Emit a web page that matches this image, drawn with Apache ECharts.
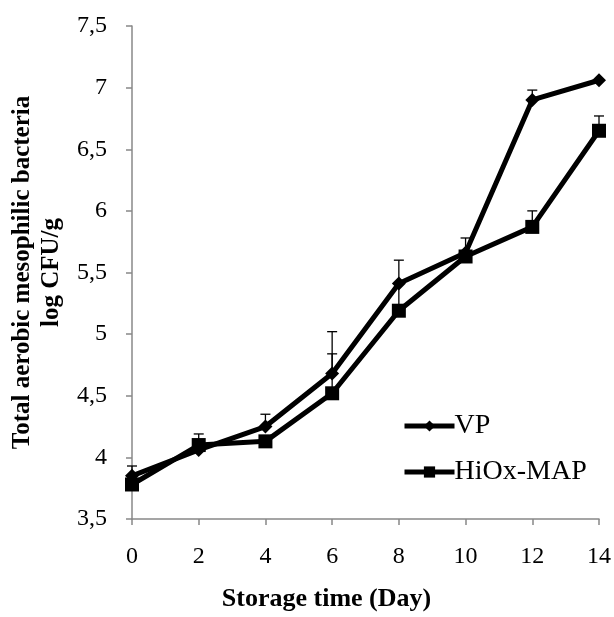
<!DOCTYPE html>
<html>
<head>
<meta charset="utf-8">
<style>
  html, body { margin: 0; padding: 0; background: #fff; }
  #chart { width: 614px; height: 617px; }
</style>
<script src="https://cdn.jsdelivr.net/npm/echarts@6/dist/echarts.min.js"></script>
</head>
<body>
<div id="chart"></div>
<script>
// Storage days
const days = [0, 2, 4, 6, 8, 10, 12, 14];
// Mean counts, log CFU/g
const vp = [3.85, 4.06, 4.25, 4.68, 5.41, 5.66, 6.90, 7.06];
const hiox = [3.78, 4.10, 4.13, 4.52, 5.19, 5.63, 5.87, 6.65];
// Upper error (standard deviation), null where none is drawn
const vpErr = [0.08, null, 0.10, 0.34, 0.19, 0.12, 0.08, null];
const hioxErr = [null, 0.09, null, 0.32, 0.22, null, 0.13, 0.12];
// Y tick values
const yTicks = [3.5, 4, 4.5, 5, 5.5, 6, 6.5, 7, 7.5];

const serif = '"Liberation Serif", "DejaVu Serif", serif';

function errData(means, errs) {
  const out = [];
  days.forEach((d, i) => {
    if (errs[i] != null) out.push([d, means[i], means[i] + errs[i]]);
  });
  return out;
}

function errRender(params, api) {
  const top = api.coord([api.value(0), api.value(2)]);
  const base = api.coord([api.value(0), api.value(1)]);
  const half = 5;
  const style = { stroke: '#000', lineWidth: 1.3 };
  return {
    type: 'group',
    children: [
      { type: 'line', shape: { x1: base[0], y1: base[1], x2: top[0], y2: top[1] }, style },
      { type: 'line', shape: { x1: top[0] - half, y1: top[1], x2: top[0] + half, y2: top[1] }, style }
    ]
  };
}

const chart = echarts.init(document.getElementById('chart'));
chart.setOption({
  animation: false,
  backgroundColor: '#fff',
  grid: { left: 132, right: 13, top: 26, bottom: 94, containLabel: false },
  legend: {
    orient: 'vertical',
    left: 397,
    top: 407,
    itemWidth: 50,
    itemHeight: 14,
    itemGap: 18,
    lineStyle: { width: 5, color: '#000' },
    itemStyle: { color: '#000' },
    textStyle: { fontFamily: serif, fontSize: 28, color: '#000', padding: [0, 0, 0, -5] },
    data: ['VP', 'HiOx-MAP']
  },
  xAxis: {
    type: 'value',
    min: 0, max: 14, interval: 2,
    axisLine: { show: true, lineStyle: { color: '#888', width: 1.5 } },
    axisTick: { show: true, inside: false, length: 6, lineStyle: { color: '#888', width: 1.5 } },
    axisLabel: { fontFamily: serif, fontSize: 24, color: '#000', margin: 26 },
    splitLine: { show: false },
    name: 'Storage time (Day)',
    nameLocation: 'middle',
    nameGap: 67,
    nameTextStyle: {
      fontFamily: serif, fontSize: 26, fontWeight: 'bold', color: '#000',
      padding: [0, 78, 0, 0]
    }
  },
  yAxis: {
    type: 'value',
    min: yTicks[0], max: yTicks[yTicks.length - 1], interval: 0.5,
    axisLine: { show: true, lineStyle: { color: '#888', width: 1.5 } },
    axisTick: { show: true, inside: false, length: 6, lineStyle: { color: '#888', width: 1.5 } },
    axisLabel: {
      fontFamily: serif, fontSize: 24, color: '#000', margin: 25,
      formatter: v => String(v).replace('.', ',')
    },
    splitLine: { show: false },
    name: 'Total aerobic mesophilic bacteria\nlog CFU/g',
    nameLocation: 'middle',
    nameGap: 63,
    nameRotate: 90,
    nameTextStyle: { fontFamily: serif, fontSize: 25, fontWeight: 'bold', color: '#000', lineHeight: 29 }
  },
  series: [
    {
      type: 'custom',
      name: 'vpErr',
      renderItem: errRender,
      data: errData(vp, vpErr),
      encode: { x: 0, y: [1, 2] },
      z: 1,
      silent: true
    },
    {
      type: 'custom',
      name: 'hioxErr',
      renderItem: errRender,
      data: errData(hiox, hioxErr),
      encode: { x: 0, y: [1, 2] },
      z: 1,
      silent: true
    },
    {
      name: 'VP',
      type: 'line',
      data: days.map((d, i) => [d, vp[i]]),
      symbol: 'diamond',
      symbolSize: 14,
      lineStyle: { color: '#000', width: 5 },
      itemStyle: { color: '#000' },
      z: 3
    },
    {
      name: 'HiOx-MAP',
      type: 'line',
      data: days.map((d, i) => [d, hiox[i]]),
      symbol: 'rect',
      symbolSize: 14,
      lineStyle: { color: '#000', width: 5 },
      itemStyle: { color: '#000' },
      z: 3
    }
  ]
});
</script>
</body>
</html>
